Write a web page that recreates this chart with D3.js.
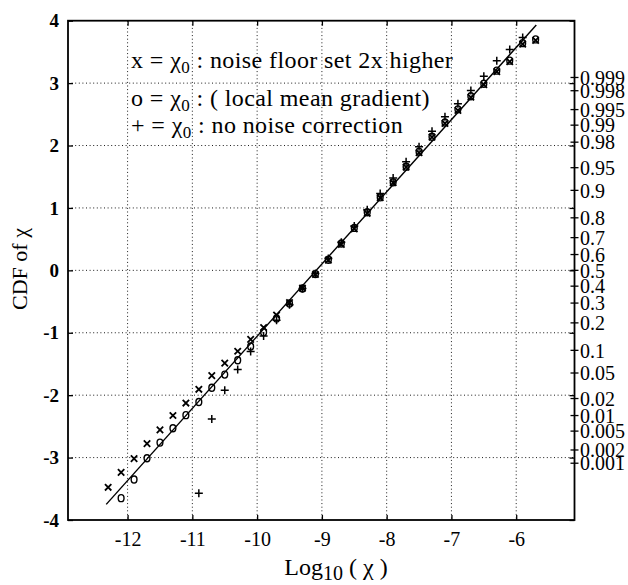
<!DOCTYPE html>
<html>
<head>
<meta charset="utf-8">
<script src="https://cdn.jsdelivr.net/npm/d3@7"></script>
<style>
  html, body { margin: 0; padding: 0; background: #fff; }
  svg text { font-family: "Liberation Serif", "DejaVu Serif", serif; fill: #000; }
  .grid line { stroke: #000; stroke-width: 0.9; stroke-dasharray: 1, 2.6; }
</style>
</head>
<body>
<div id="chart"></div>
<script>
// log10(chi) column positions of the markers
const logChi = [-12.3, -12.1, -11.9, -11.7, -11.5, -11.3, -11.1, -10.9, -10.7, -10.5, -10.3, -10.1,
  -9.9, -9.7, -9.5, -9.3, -9.1, -8.9, -8.7, -8.5, -8.3, -8.1, -7.9, -7.7, -7.5, -7.3, -7.1,
  -6.9, -6.7, -6.5, -6.3, -6.1, -5.9, -5.7];
// x = noise floor set 2x higher
const cdfX = [-3.46, -3.22, -3.00, -2.76, -2.54, -2.31, -2.11, -1.89, -1.67, -1.47, -1.28, -1.09,
  -0.90, -0.70, -0.50, -0.27, -0.05, 0.18, 0.43, 0.68, 0.93, 1.18, 1.42, 1.67, 1.90, 2.15, 2.37,
  2.58, 2.79, 2.99, 3.20, 3.36, 3.64, 3.70];
// o = local mean gradient
const cdfO = [null, -3.65, -3.35, -3.01, -2.76, -2.53, -2.32, -2.11, -1.88, -1.67, -1.44, -1.22,
  -0.99, -0.77, -0.53, -0.29, -0.06, 0.17, 0.43, 0.68, 0.93, 1.17, 1.41, 1.66, 1.90, 2.14, 2.37,
  2.58, 2.79, 2.99, 3.20, 3.36, 3.64, 3.70];
// + = no noise correction
const cdfPlus = [null, null, null, null, null, null, null, -3.57, -2.38, -1.92, -1.59, -1.30,
  -1.05, -0.80, -0.55, -0.29, -0.05, 0.19, 0.45, 0.71, 0.97, 1.23, 1.48, 1.74, 1.98, 2.23, 2.46,
  2.67, 2.88, 3.11, 3.36, 3.54, 3.73, null];
// fitted straight line
const fitLine = [[-12.33, -3.75], [-5.69, 3.93]];

const xTicks = [-12, -11, -10, -9, -8, -7, -6];
const yTicks = [-4, -3, -2, -1, 0, 1, 2, 3, 4];
const probTicks = [0.999, 0.998, 0.995, 0.99, 0.98, 0.95, 0.9, 0.8, 0.7, 0.6, 0.5, 0.4, 0.3, 0.2,
  0.1, 0.05, 0.02, 0.01, 0.005, 0.002, 0.001];
const probLabels = ['0.999', '0.998', '0.995', '0.99', '0.98', '0.95', '0.9', '0.8', '0.7', '0.6',
  '0.5', '0.4', '0.3', '0.2', '0.1', '0.05', '0.02', '0.01', '0.005', '0.002', '0.001'];

// inverse normal CDF (Acklam)
function probit(p) {
  const a = [-39.69683028665376, 220.9460984245205, -275.9285104469687, 138.3577518672690, -30.66479806614716, 2.506628277459239];
  const b = [-54.47609879822406, 161.5858368580409, -155.6989798598866, 66.80131188771972, -13.28068155288572];
  const c = [-0.007784894002430293, -0.3223964580411365, -2.400758277161838, -2.549732539343734, 4.374664141464968, 2.938163982698783];
  const d = [0.007784695709041462, 0.3224671290700398, 2.445134137142996, 3.754408661907416];
  const plow = 0.02425;
  let q, r;
  if (p < plow) {
    q = Math.sqrt(-2 * Math.log(p));
    return (((((c[0]*q+c[1])*q+c[2])*q+c[3])*q+c[4])*q+c[5]) / ((((d[0]*q+d[1])*q+d[2])*q+d[3])*q+1);
  }
  if (p > 1 - plow) {
    q = Math.sqrt(-2 * Math.log(1 - p));
    return -(((((c[0]*q+c[1])*q+c[2])*q+c[3])*q+c[4])*q+c[5]) / ((((d[0]*q+d[1])*q+d[2])*q+d[3])*q+1);
  }
  q = p - 0.5; r = q * q;
  return (((((a[0]*r+a[1])*r+a[2])*r+a[3])*r+a[4])*r+a[5])*q / (((((b[0]*r+b[1])*r+b[2])*r+b[3])*r+b[4])*r+1);
}

const width = 628, height = 585;
const box = { left: 68, right: 574.5, top: 20.7, bottom: 520 };

const svg = d3.select('#chart').append('svg')
  .attr('width', width)
  .attr('height', height)
  .style('display', 'block');

svg.append('rect').attr('width', width).attr('height', height).attr('fill', '#fff');

const x = d3.scaleLinear().domain([-12.92, -5.1]).range([box.left, box.right]);
const y = d3.scaleLinear().domain([-4, 4]).range([box.bottom, box.top]);

// dotted grid
const grid = svg.append('g').attr('class', 'grid');
grid.selectAll('.gx').data(xTicks).enter().append('line')
  .attr('x1', d => x(d)).attr('x2', d => x(d))
  .attr('y1', box.top).attr('y2', box.bottom);
grid.selectAll('.gy').data(yTicks.filter(d => d > -4 && d < 4)).enter().append('line')
  .attr('x1', box.left).attr('x2', box.right)
  .attr('y1', d => y(d)).attr('y2', d => y(d));

// bottom axis
svg.append('g')
  .attr('transform', `translate(0,${box.bottom})`)
  .call(d3.axisBottom(x).tickValues(xTicks).tickSizeInner(-5).tickSizeOuter(0).tickPadding(12).tickFormat(d3.format('d')))
  .call(g => g.select('.domain').remove())
  .call(g => g.selectAll('line').attr('stroke', '#000').attr('stroke-width', 1.3))
  .call(g => g.selectAll('text').attr('font-size', 20).text(d => '-' + Math.abs(d)));

// top inner ticks
svg.append('g')
  .attr('transform', `translate(0,${box.top})`)
  .call(d3.axisTop(x).tickValues(xTicks).tickSizeInner(-5).tickSizeOuter(0).tickFormat(''))
  .call(g => g.select('.domain').remove())
  .call(g => g.selectAll('line').attr('stroke', '#000').attr('stroke-width', 1.3));

// left axis
svg.append('g')
  .attr('transform', `translate(${box.left},0)`)
  .call(d3.axisLeft(y).tickValues(yTicks).tickSizeInner(-5).tickSizeOuter(0).tickPadding(9).tickFormat(d3.format('d')))
  .call(g => g.select('.domain').remove())
  .call(g => g.selectAll('line').attr('stroke', '#000').attr('stroke-width', 1.3))
  .call(g => g.selectAll('text').attr('font-size', 19).attr('font-weight', 'bold')
    .text(d => d < 0 ? '-' + Math.abs(d) : d));

// right inner ticks at the integer levels
svg.append('g')
  .attr('transform', `translate(${box.right},0)`)
  .call(d3.axisRight(y).tickValues(yTicks).tickSizeInner(-5).tickSizeOuter(0).tickFormat(''))
  .call(g => g.select('.domain').remove())
  .call(g => g.selectAll('line').attr('stroke', '#000').attr('stroke-width', 1.3));

// right probability axis
const prob = svg.append('g').attr('class', 'prob');
prob.selectAll('line').data(probTicks).enter().append('line')
  .attr('x1', box.right - 4).attr('x2', box.right + 4)
  .attr('y1', d => y(probit(d))).attr('y2', d => y(probit(d)))
  .attr('stroke', '#000').attr('stroke-width', 1.3);
prob.selectAll('text').data(probTicks).enter().append('text')
  .attr('x', box.right + 5.5)
  .attr('y', d => y(probit(d)))
  .attr('dy', '0.36em')
  .attr('font-size', 20)
  .text((d, i) => probLabels[i]);

// frame
svg.append('rect')
  .attr('x', box.left).attr('y', box.top)
  .attr('width', box.right - box.left).attr('height', box.bottom - box.top)
  .attr('fill', 'none').attr('stroke', '#000').attr('stroke-width', 1.8);

// fitted line
svg.append('path')
  .datum(fitLine)
  .attr('d', d3.line().x(d => x(d[0])).y(d => y(d[1])))
  .attr('fill', 'none').attr('stroke', '#000').attr('stroke-width', 1.4);

// markers
const marks = svg.append('g').attr('stroke', '#000').attr('fill', 'none');

const xPts = logChi.map((v, i) => [v, cdfX[i]]).filter(d => d[1] !== null);
const oPts = logChi.map((v, i) => [v, cdfO[i]]).filter(d => d[1] !== null);
const plusPts = logChi.map((v, i) => [v, cdfPlus[i]]).filter(d => d[1] !== null);

marks.selectAll('.mo').data(oPts).enter().append('ellipse')
  .attr('cx', d => x(d[0])).attr('cy', d => y(d[1]))
  .attr('rx', 2.9).attr('ry', 3.5)
  .attr('stroke-width', 1.4);

marks.selectAll('.mx').data(xPts).enter().append('path')
  .attr('d', d => {
    const cx = x(d[0]), cy = y(d[1]) + 1;
    return `M${cx - 3.2},${cy - 3.2}L${cx + 3.2},${cy + 3.2}M${cx + 3.2},${cy - 3.2}L${cx - 3.2},${cy + 3.2}`;
  })
  .attr('stroke-width', 1.8);

marks.selectAll('.mp').data(plusPts).enter().append('path')
  .attr('d', d => {
    const cx = x(d[0]), cy = y(d[1]);
    return `M${cx - 4},${cy}L${cx + 4},${cy}M${cx},${cy - 4}L${cx},${cy + 4}`;
  })
  .attr('stroke-width', 1.5);

// legend text
const legendRows = [
  ['x = χ', ' : noise floor set 2x higher'],
  ['o = χ', ' : ( local mean gradient)'],
  ['+ = χ', ' : no noise correction']
];
const legendY = [68, 106, 133];
const legend = svg.append('g');
legendRows.forEach((row, i) => {
  const t = legend.append('text').attr('x', 131).attr('y', legendY[i])
    .attr('font-size', 24).attr('letter-spacing', 0.4);
  t.append('tspan').text(row[0]);
  t.append('tspan').attr('font-size', 17).attr('dy', 5).text('0');
  t.append('tspan').attr('dy', -5).text(row[1]);
});

// axis titles
svg.append('text')
  .attr('transform', 'translate(27,269) rotate(-90)')
  .attr('text-anchor', 'middle')
  .attr('font-size', 22)
  .text('CDF of χ');

const xt = svg.append('text')
  .attr('x', 336).attr('y', 575)
  .attr('text-anchor', 'middle')
  .attr('font-size', 24);
xt.append('tspan').text('Log');
xt.append('tspan').attr('font-size', 20).attr('dy', 5).text('10');
xt.append('tspan').attr('dy', -5).text(' ( χ )');
</script>
</body>
</html>
